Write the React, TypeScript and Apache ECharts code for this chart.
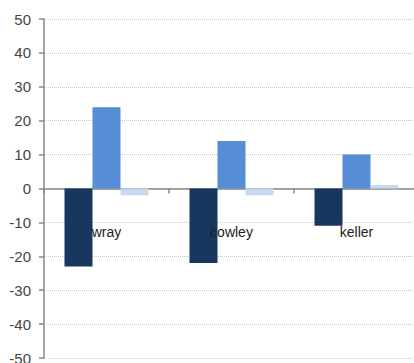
import React, { useEffect, useRef } from "react";
import * as echarts from "echarts";

const categories = ["wray", "cowley", "keller"];
const seriesA = [-23, -22, -11];
const seriesB = [24, 14, 10];
const seriesC = [-2, -2, 1];
const yMin = -50;
const yMax = 50;
const yInterval = 10;

export default function App() {
  const ref = useRef<HTMLDivElement>(null);
  useEffect(() => {
    if (!ref.current) return;
    const chart = echarts.init(ref.current, undefined, { renderer: "svg" });
    const font = "Liberation Sans, Arial, sans-serif";
    chart.setOption({
      animation: false,
      grid: { left: 44, right: -5, top: 19, bottom: 5, containLabel: false, outerBoundsMode: "none" },
      xAxis: [
        {
          type: "category",
          data: categories,
          axisLine: { onZero: true, lineStyle: { color: "#888888", width: 1.5 } },
          axisTick: { show: true, length: 5, lineStyle: { color: "#888888", width: 1.5 } },
          axisLabel: { show: false },
          splitLine: { show: false },
        },
        {
          type: "category",
          data: categories,
          position: "bottom",
          offset: -133,
          z: 10,
          axisLine: { show: false, onZero: false },
          axisTick: { show: false },
          axisLabel: { margin: 0, color: "#222222", fontSize: 14, fontFamily: font },
          splitLine: { show: false },
        },
      ],
      yAxis: {
        type: "value",
        min: yMin,
        max: yMax,
        interval: yInterval,
        axisLine: { show: true, lineStyle: { color: "#888888", width: 1.5 } },
        axisTick: { show: true, length: 5, lineStyle: { color: "#888888", width: 1.5 } },
        axisLabel: { margin: 13, color: "#444444", fontSize: 15, fontFamily: font },
        splitLine: { show: true, lineStyle: { color: "#c8c8c8", type: "dotted", width: 1 } },
      },
      series: [
        { type: "bar", data: seriesA, barWidth: 28, barGap: "0%", itemStyle: { color: "#17375e" } },
        { type: "bar", data: seriesB, barWidth: 28, barGap: "0%", itemStyle: { color: "#558ed5" } },
        { type: "bar", data: seriesC, barWidth: 28, barGap: "0%", itemStyle: { color: "#c6d9f1" } },
      ],
    });
    return () => chart.dispose();
  }, []);
  return <div ref={ref} style={{ width: 414, height: 363, position: "absolute", left: 0, top: 0 }} />;
}
